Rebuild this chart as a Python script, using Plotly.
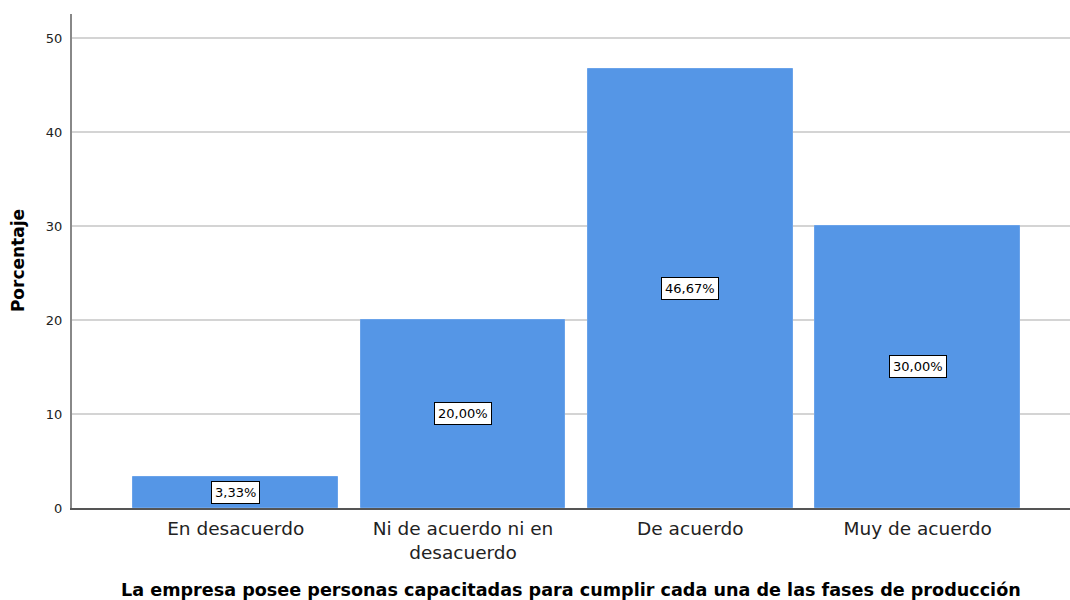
import plotly.graph_objects as go

categories = ["En desacuerdo", "Ni de acuerdo ni en<br>desacuerdo", "De acuerdo", "Muy de acuerdo"]
porcentajes = [3.33, 20.00, 46.67, 30.00]
y_ticks = [0, 10, 20, 30, 40, 50]

x_pos = list(range(len(categories)))
bar_color = "#5596E6"
font_family = "DejaVu Sans, Arial, sans-serif"

fig = go.Figure()
fig.add_trace(go.Bar(
    x=x_pos,
    y=porcentajes,
    width=0.9,
    marker=dict(color=bar_color, line=dict(color="#6AA3EA", width=1)),
    hoverinfo="skip",
))

# value labels in boxes at the middle of each bar
for xi, v in zip(x_pos, porcentajes):
    fig.add_annotation(
        x=xi, y=v / 2,
        text=f"{v:.2f}%".replace(".", ","),
        showarrow=False,
        font=dict(family=font_family, size=13, color="black"),
        bgcolor="white",
        bordercolor="black",
        borderwidth=1,
        borderpad=3,
    )

fig.add_annotation(
    x=0.5, y=-0.167, xref="paper", yref="paper",
    text="<b>La empresa posee personas capacitadas para cumplir cada una de las fases de producción</b>",
    showarrow=False, xanchor="center", yanchor="middle",
    font=dict(family=font_family, size=17.6, color="black"),
)
fig.add_annotation(
    x=-0.054, y=0.5, xref="paper", yref="paper",
    text="<b>Porcentaje</b>", textangle=-90,
    showarrow=False, xanchor="center", yanchor="middle",
    font=dict(family=font_family, size=17, color="black"),
)

fig.update_layout(
    width=1070, height=600,
    margin=dict(l=72, r=0, t=14, b=92),
    plot_bgcolor="white", paper_bgcolor="white",
    showlegend=False,
    font=dict(family=font_family),
    bargap=0,
)
fig.update_xaxes(
    range=[-0.72, 3.67],
    tickvals=x_pos, ticktext=categories,
    tickfont=dict(size=18.5, color="#222"),
    showgrid=False, zeroline=False,
    showline=True, linecolor="#555", linewidth=1.5,
    ticks="", ticklabelstandoff=3,
)
fig.update_yaxes(
    range=[0, 52.55],
    tickvals=y_ticks,
    tickfont=dict(size=13, color="#222"),
    showgrid=True, gridcolor="#D4D4D4", gridwidth=1.5,
    zeroline=False,
    showline=True, linecolor="#888", linewidth=2,
    ticks="", ticklabelstandoff=5,
)

fig.write_html("out.html")
